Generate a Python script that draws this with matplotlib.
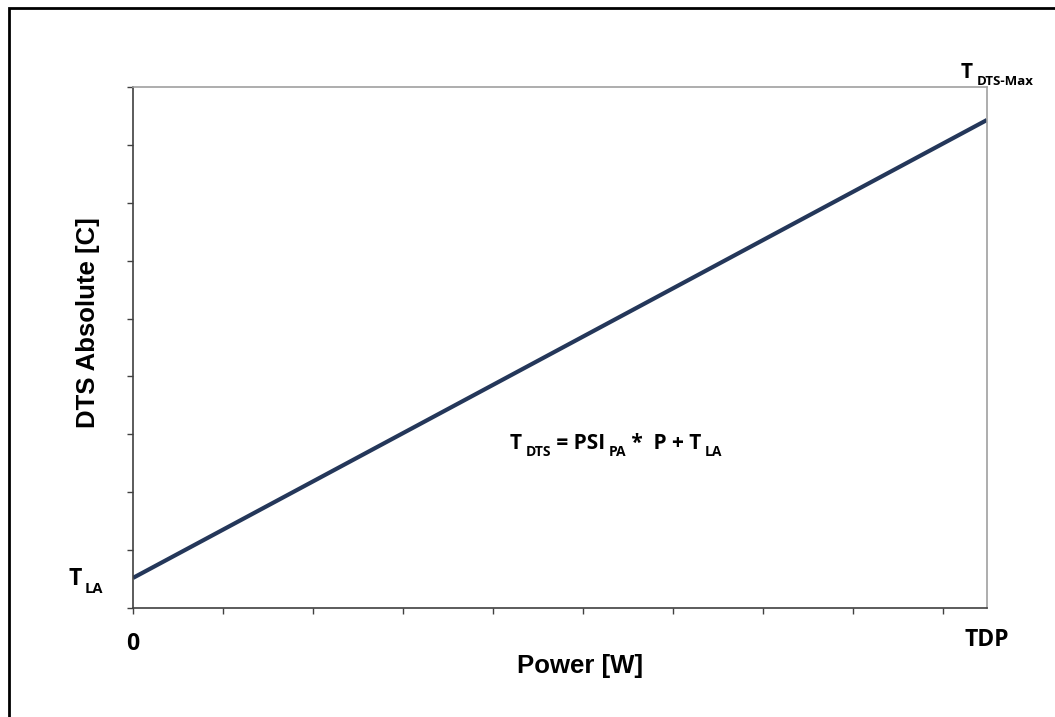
"""DTS absolute temperature vs power sketch."""

import matplotlib
matplotlib.use('Agg')
import matplotlib.pyplot as plt
from matplotlib.patches import Rectangle


# Line end points (axis units: power ticks 0..9, temperature ticks 0..9)
power = [0.0, 9.49]
dts = [0.52, 8.43]

x_ticks = list(range(0, 10))
y_ticks = list(range(0, 10))
x_lim = (0.0, 9.49)
y_lim = (0.0, 9.0)

LINE_COLOR = '#24375a'
AXIS_DARK = '#404040'
AXIS_LIGHT = '#a0a0a0'
ANNOT_FONT = ['Open Sans', 'DejaVu Sans']
LABEL_FONT = ['Liberation Sans', 'DejaVu Sans']


def sub_text(ax, x, y, parts, size=15, sub_size=10, drop=-3.5, gap=2.5):
    """Draw text pieces, (text, is_subscript), one after the other."""
    first = ax.annotate(parts[0][0], xy=(x, y), xycoords='data',
                        fontsize=size, fontweight='bold', family=ANNOT_FONT,
                        va='baseline', ha='left', annotation_clip=False)
    prev = first
    for txt, is_sub in parts[1:]:
        prev = ax.annotate(txt, xy=(1, 0), xycoords=(prev, first),
                           xytext=(gap, drop) if is_sub else (0, 0),
                           textcoords='offset points',
                           fontsize=sub_size if is_sub else size,
                           fontweight='bold', family=ANNOT_FONT,
                           va='bottom', ha='left', annotation_clip=False)
    return first


fig = plt.figure(figsize=(10.55, 7.17), dpi=100)
ax = fig.add_axes([0.1261, 0.1520, 0.8094, 0.7267])

ax.plot(power, dts, color=LINE_COLOR, lw=3.0, solid_capstyle='butt')

ax.set_xlim(*x_lim)
ax.set_ylim(*y_lim)
ax.set_xticks(x_ticks)
ax.set_yticks(y_ticks)
ax.set_xticklabels([])
ax.set_yticklabels([])
ax.tick_params(direction='out', length=4, width=1.0, color=AXIS_DARK)

for side in ('left', 'bottom'):
    ax.spines[side].set_color(AXIS_DARK)
    ax.spines[side].set_linewidth(1.2)
for side in ('top', 'right'):
    ax.spines[side].set_color(AXIS_LIGHT)
    ax.spines[side].set_linewidth(1.2)

ax.set_xlabel('Power [W]', fontsize=18.5, fontweight='bold',
              family=LABEL_FONT)
ax.set_ylabel('DTS Absolute [C]', fontsize=18.5, fontweight='bold',
              family=LABEL_FONT)
ax.xaxis.set_label_coords(0.5234, -0.088)
ax.yaxis.set_label_coords(-0.039, 0.548)

# Axis end labels
ax.text(0, -0.73, '0', fontsize=16.5, fontweight='bold', family=ANNOT_FONT,
        ha='center', va='baseline')
ax.text(x_lim[1], -0.66, 'TDP', fontsize=16.5, fontweight='bold',
        family=ANNOT_FONT, ha='center', va='baseline')

sub_text(ax, -0.72, 0.40, [('T', False), ('LA', True)], size=16.5,
         sub_size=10.5)
sub_text(ax, 9.2, 9.15, [('T', False), ('DTS-Max', True)], size=15,
         sub_size=9.5)
sub_text(ax, 4.19, 2.75, [('T', False), ('DTS', True), (' = PSI', False),
                          ('PA', True), (' *  P + T', False), ('LA', True)],
         size=15, sub_size=10)

# Outer frame running off the right and bottom edges
fig.patches.append(Rectangle((9 / 1055, -0.1), 1.2, 1.1 - 8 / 717,
                             transform=fig.transFigure, fill=False,
                             edgecolor='black', lw=2.0, zorder=10))

fig.savefig('out.png', dpi=100)
